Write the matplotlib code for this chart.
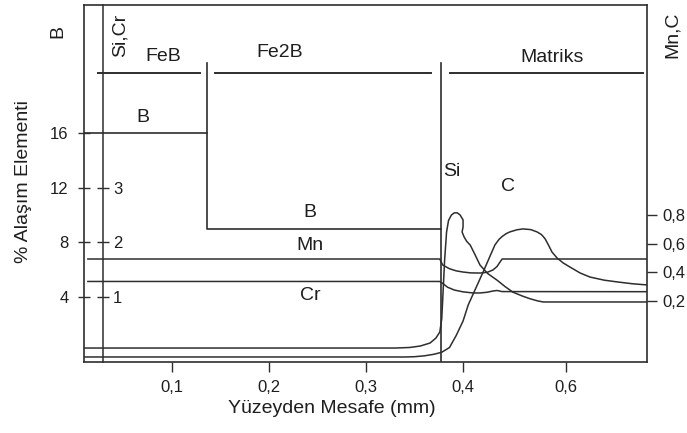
import numpy as np
import matplotlib
matplotlib.use("Agg")
import matplotlib.pyplot as plt

plt.rcParams['font.family'] = ['Liberation Sans', 'DejaVu Sans']

RENK = '#2e2e2e'
YAZI_RENK = '#1e1e1e'

# eksen degerleri
x_ticks = [0.1, 0.2, 0.3, 0.4, 0.6]
x_tick_labels = ["0,1", "0,2", "0,3", "0,4", "0,6"]
b_ticks = [4, 8, 12, 16]
sicr_ticks = [1, 2, 3]
mnc_ticks = [0.2, 0.4, 0.6, 0.8]
mnc_tick_labels = ["0,2", "0,4", "0,6", "0,8"]

# B (sol eksen, %)
b_x = [0.009, 0.136, 0.136, 0.377]
b_y = [16, 16, 9.0, 9.0]

# Mn ve C (sag eksen)
mn_x = [0.013, 0.376, 0.379, 0.386, 0.393, 0.400, 0.415, 0.433, 0.447, 0.458, 0.466, 0.472, 0.476, 0.758]
mn_y = [0.493, 0.493, 0.451, 0.425, 0.410, 0.402, 0.396, 0.395, 0.400, 0.416, 0.440, 0.472, 0.493, 0.493]

c_x = [0.009, 0.340, 0.350, 0.360, 0.370, 0.378, 0.386, 0.393, 0.400, 0.410, 0.439,
       0.462, 0.470, 0.476, 0.484, 0.491, 0.505, 0.517, 0.532, 0.544, 0.552, 0.556,
       0.560, 0.563, 0.568, 0.573, 0.583, 0.595, 0.608, 0.628, 0.647, 0.675, 0.700,
       0.730, 0.758]
c_y = [-0.191, -0.191, -0.189, -0.183, -0.172, -0.158, -0.125, -0.04, 0.06, 0.172, 0.402,
       0.591, 0.630, 0.650, 0.670, 0.682, 0.697, 0.703, 0.698, 0.682, 0.665, 0.650,
       0.632, 0.612, 0.578, 0.542, 0.500, 0.465, 0.437, 0.395, 0.367, 0.345, 0.333,
       0.320, 0.312]

# Si ve Cr (ic eksen)
si_x = [0.009, 0.330, 0.345, 0.356, 0.366, 0.372, 0.376, 0.378, 0.379, 0.381, 0.383,
        0.385, 0.388, 0.391, 0.394, 0.397, 0.400, 0.400, 0.399, 0.402, 0.407, 0.414,
        0.423, 0.433, 0.448, 0.466, 0.482, 0.497, 0.515, 0.530, 0.545, 0.556, 0.758]
si_y = [0.068, 0.068, 0.078, 0.105, 0.16, 0.25, 0.36, 0.6, 0.95, 1.68, 2.19,
        2.40, 2.50, 2.54, 2.54, 2.50, 2.41, 2.28, 2.19, 2.10, 2.02, 1.95,
        1.78, 1.585, 1.43, 1.31, 1.19, 1.09, 1.02, 0.97, 0.93, 0.91, 0.91]

cr_x = [0.013, 0.376, 0.379, 0.384, 0.391, 0.400, 0.419, 0.433, 0.447, 0.458, 0.466, 0.476, 0.758]
cr_y = [1.285, 1.285, 1.25, 1.18, 1.128, 1.095, 1.075, 1.075, 1.088, 1.11, 1.12, 1.10, 1.098]

# faz bolgeleri
faz_y = 20.4
faz_bas = [0.023, 0.144, 0.387]
faz_son = [0.129, 0.367, 0.750]
feb_sinir = 0.136
matriks_sinir = 0.377


# 0,4'ten sonra x ekseni sikistirilmis
def ileri(x):
    x = np.asarray(x, float)
    return np.where(x <= 0.4, x, 0.4 + (x - 0.4) * 0.53)


def geri(u):
    u = np.asarray(u, float)
    return np.where(u <= 0.4, u, 0.4 + (u - 0.4) / 0.53)


fig = plt.figure(figsize=(6.87, 4.33), dpi=100)
ax = fig.add_axes([84 / 687, 1 - 362 / 433, (647 - 84) / 687, (362 - 5) / 433])
ax.set_xscale('function', functions=(ileri, geri))
ax.set_xlim(0.009, 0.758)
ax.set_ylim(-0.75, 25.36)

ax_r = ax.twinx()
ax_r.set_ylim(-0.226, 2.266)
ax_s = ax.twinx()
ax_s.set_ylim(-0.75 / 4, 25.36 / 4)

for sp in ax.spines.values():
    sp.set_color(RENK)
    sp.set_linewidth(1.2)
for sp in ax_r.spines.values():
    sp.set_visible(False)
for k, sp in ax_s.spines.items():
    sp.set_visible(k == 'right')
ax_s.spines['right'].set_position(('data', 0.029))
ax_s.spines['right'].set_color(RENK)
ax_s.spines['right'].set_linewidth(1.1)

# egriler
ax.plot(b_x, b_y, color=RENK, lw=1.2)
ax_r.plot(mn_x, mn_y, color=RENK, lw=1.1)
ax_r.plot(c_x, c_y, color=RENK, lw=1.1)
ax_s.plot(si_x, si_y, color=RENK, lw=1.1)
ax_s.plot(cr_x, cr_y, color=RENK, lw=1.1)

for a, b in zip(faz_bas, faz_son):
    ax.plot([a, b], [faz_y, faz_y], color=RENK, lw=1.4)
ax.plot([feb_sinir, feb_sinir], [21.1, 16], color=RENK, lw=1.2)
ax.plot([matriks_sinir, matriks_sinir], [21.1, -0.75], color=RENK, lw=1.2)

# eksen isaretleri
ax.set_xticks(x_ticks)
ax.set_xticklabels(x_tick_labels)
ax.minorticks_off()
ax.tick_params(axis='x', direction='out', length=7, width=1.0, pad=6,
               labelsize=12, colors=RENK, labelcolor=YAZI_RENK)
ax.set_yticks(b_ticks)
ax.set_yticklabels([str(v) for v in b_ticks])
ax.tick_params(axis='y', direction='inout', length=8, width=1.0, pad=7,
               labelsize=12, colors=RENK, labelcolor=YAZI_RENK)

ax_r.set_yticks(mnc_ticks)
ax_r.set_yticklabels(mnc_tick_labels)
ax_r.tick_params(axis='y', direction='out', length=7, width=1.0, pad=4,
                 labelsize=12, colors=RENK, labelcolor=YAZI_RENK)

ax_s.yaxis.set_ticks_position('right')
ax_s.set_yticks(sicr_ticks)
ax_s.set_yticklabels([str(v) for v in sicr_ticks])
ax_s.tick_params(axis='y', direction='inout', length=8, width=1.0, pad=3,
                 labelsize=12, colors=RENK, labelcolor=YAZI_RENK)

# yazilar
yazi = dict(color=YAZI_RENK, fontsize=14, ha='center', va='center')
ax.text(0.0907, 21.56, "FeB", **yazi)
ax.text(0.211, 21.85, "Fe2B", **yazi)
ax.text(0.573, 21.5, "Matriks", **yazi)
ax.text(0.070, 17.1, "B", **yazi)
ax.text(0.242, 10.15, "B", **yazi)
ax.text(0.242, 7.8, "Mn", **yazi)
ax.text(0.242, 4.15, "Cr", **yazi)
ax.text(0.388, 13.15, "Si", **yazi)
ax.text(0.4875, 12.05, "C", **yazi)

ax.text(-0.108, 0.507, "% Alaşım Elementi", transform=ax.transAxes,
        rotation=90, **yazi)
ax.text(0.44, -0.129, "Yüzeyden Mesafe (mm)", transform=ax.transAxes, **yazi)
fig.text(58 / 687, 1 - 32 / 433, "B", rotation=90, **yazi)
fig.text(120 / 687, 1 - 35 / 433, "Si,Cr", rotation=90, **yazi)
fig.text(672 / 687, 1 - 35 / 433, "Mn,C", rotation=90, **yazi)

fig.savefig("out.png", dpi=100)
